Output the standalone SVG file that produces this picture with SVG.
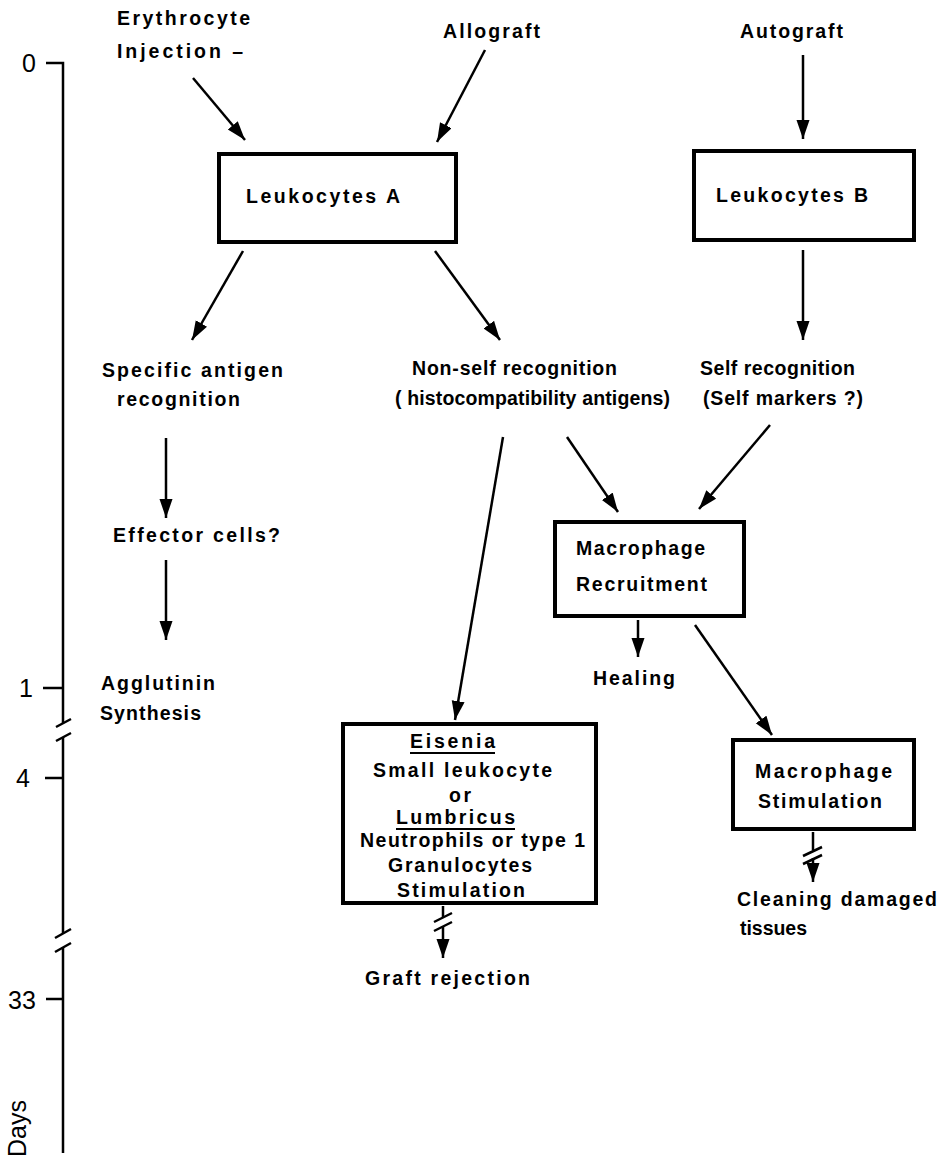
<svg xmlns="http://www.w3.org/2000/svg" width="951" height="1160" viewBox="0 0 951 1160">
<style>
.t{font-family:"Liberation Sans",Arial,sans-serif;font-weight:bold;font-size:19.5px;fill:#000}
.n{font-family:"Liberation Sans",Arial,sans-serif;font-size:25px;fill:#000}
.box{fill:#fff;stroke:#000;stroke-width:4}
.c{stroke:#000;stroke-width:2.5;fill:none}
.a{stroke:#000;stroke-width:2.5;fill:none;marker-end:url(#ah)}
.ax{stroke:#000;stroke-width:2.5;fill:none}
</style>
<defs>
<marker id="ah" markerUnits="userSpaceOnUse" markerWidth="20" markerHeight="14" refX="19" refY="6.5" orient="auto">
<path d="M0,0 L19,6.5 L0,13 z" fill="#000"/>
</marker>
</defs>
<rect width="951" height="1160" fill="#fff"/>

<g id="axis">
<path class="ax" d="M46,63 H63 V723 M63,737 V933 M63,947 V1153"/>
<path class="ax" d="M56,727 L71,719 M56,741 L71,733 M55,938 L71,929 M55,952 L71,943"/>
<path class="ax" d="M43,688 H63 M45,778 H63 M46,999 H63"/>
<text class="n" x="22" y="72">0</text>
<text class="n" x="19" y="697">1</text>
<text class="n" x="16" y="787">4</text>
<text class="n" x="8" y="1009">33</text>
<text class="n" transform="translate(26,1157) rotate(-90)">Days</text>
</g>

<g id="connectors">
<line class="a" x1="193" y1="78" x2="245" y2="140"/>
<line class="a" x1="485" y1="50" x2="437" y2="142"/>
<line class="a" x1="803" y1="55" x2="803" y2="139"/>
<line class="a" x1="243" y1="251" x2="192" y2="340"/>
<line class="a" x1="435" y1="251" x2="500" y2="340"/>
<line class="a" x1="803" y1="250" x2="803" y2="340"/>
<line class="a" x1="166" y1="438" x2="166" y2="518"/>
<line class="a" x1="166" y1="560" x2="166" y2="640"/>
<line class="a" x1="503" y1="437" x2="455" y2="720"/>
<line class="a" x1="567" y1="437" x2="618" y2="512"/>
<line class="a" x1="770" y1="425" x2="699" y2="509"/>
<line class="a" x1="638" y1="620" x2="638" y2="657"/>
<line class="a" x1="695" y1="625" x2="772" y2="735"/>
<line class="c" x1="813" y1="832" x2="813" y2="850"/>
<path class="c" d="M803,856 L822,847 M803,864 L822,855"/>
<line class="a" x1="813" y1="858" x2="813" y2="882"/>
<line class="c" x1="443" y1="906" x2="443" y2="917"/>
<path class="c" d="M434,922 L452,913 M434,931 L452,922"/>
<line class="a" x1="443" y1="926" x2="443" y2="958"/>
</g>

<g id="erythrocyte">
<text class="t" x="117" y="25" textLength="133" lengthAdjust="spacing">Erythrocyte</text>
<text class="t" x="117" y="58" textLength="126" lengthAdjust="spacing">Injection –</text>
</g>
<g id="allograft"><text class="t" x="443" y="38" textLength="97" lengthAdjust="spacing">Allograft</text></g>
<g id="autograft"><text class="t" x="740" y="38" textLength="103" lengthAdjust="spacing">Autograft</text></g>

<g id="leukocytesA">
<rect class="box" x="219" y="154" width="237" height="88"/>
<text class="t" x="246" y="203" textLength="154" lengthAdjust="spacing">Leukocytes A</text>
</g>
<g id="leukocytesB">
<rect class="box" x="694" y="151" width="220" height="89"/>
<text class="t" x="716" y="202" textLength="152" lengthAdjust="spacing">Leukocytes B</text>
</g>

<g id="specific">
<text class="t" x="102" y="377" textLength="181" lengthAdjust="spacing">Specific antigen</text>
<text class="t" x="117" y="406" textLength="123" lengthAdjust="spacing">recognition</text>
</g>
<g id="effector"><text class="t" x="113" y="542" textLength="167" lengthAdjust="spacing">Effector cells?</text></g>
<g id="agglutinin">
<text class="t" x="101" y="690" textLength="114" lengthAdjust="spacing">Agglutinin</text>
<text class="t" x="100" y="720" textLength="101" lengthAdjust="spacing">Synthesis</text>
</g>

<g id="nonself">
<text class="t" x="412" y="375" textLength="205" lengthAdjust="spacing">Non-self recognition</text>
<text class="t" x="395" y="405" textLength="275" lengthAdjust="spacing">( histocompatibility antigens)</text>
</g>
<g id="self">
<text class="t" x="700" y="375" textLength="155" lengthAdjust="spacing">Self recognition</text>
<text class="t" x="703" y="405" textLength="160" lengthAdjust="spacing">(Self markers ?)</text>
</g>

<g id="macrophageRecruitment">
<rect class="box" x="555" y="522" width="189" height="94"/>
<text class="t" x="576" y="555" textLength="129" lengthAdjust="spacing">Macrophage</text>
<text class="t" x="576" y="591" textLength="131" lengthAdjust="spacing">Recruitment</text>
</g>
<g id="healing"><text class="t" x="593" y="685" textLength="82" lengthAdjust="spacing">Healing</text></g>

<g id="macrophageStimulation">
<rect class="box" x="733" y="740" width="181" height="89"/>
<text class="t" x="755" y="778" textLength="137" lengthAdjust="spacing">Macrophage</text>
<text class="t" x="758" y="808" textLength="124" lengthAdjust="spacing">Stimulation</text>
</g>
<g id="cleaning">
<text class="t" x="737" y="906" textLength="200" lengthAdjust="spacing">Cleaning damaged</text>
<text class="t" x="740" y="935" textLength="67" lengthAdjust="spacing">tissues</text>
</g>

<g id="eisenia">
<rect class="box" x="343" y="724" width="253" height="179"/>
<text class="t" x="410" y="748" textLength="85" lengthAdjust="spacing">Eisenia</text>
<line x1="410" y1="753" x2="495" y2="753" stroke="#000" stroke-width="2"/>
<text class="t" x="373" y="777" textLength="179" lengthAdjust="spacing">Small leukocyte</text>
<text class="t" x="449" y="802" textLength="22" lengthAdjust="spacing">or</text>
<text class="t" x="396" y="824" textLength="119" lengthAdjust="spacing">Lumbricus</text>
<line x1="396" y1="829" x2="515" y2="829" stroke="#000" stroke-width="2"/>
<text class="t" x="360" y="847" textLength="225" lengthAdjust="spacing">Neutrophils or type 1</text>
<text class="t" x="388" y="872" textLength="144" lengthAdjust="spacing">Granulocytes</text>
<text class="t" x="397" y="897" textLength="128" lengthAdjust="spacing">Stimulation</text>
</g>
<g id="graftRejection"><text class="t" x="365" y="985" textLength="165" lengthAdjust="spacing">Graft rejection</text></g>
</svg>
